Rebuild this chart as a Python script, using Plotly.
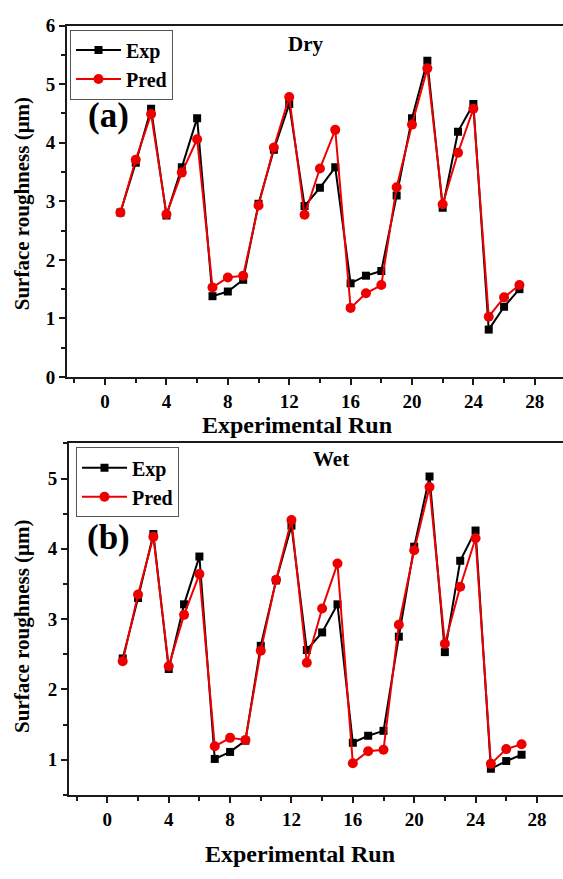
import plotly.graph_objects as go

runs = list(range(1, 28))

dry_exp = [2.81, 3.66, 4.58, 2.76, 3.58, 4.42, 1.38, 1.46, 1.66, 2.96, 3.88, 4.66, 2.92, 3.23,
           3.58, 1.60, 1.73, 1.81, 3.10, 4.42, 5.40, 2.89, 4.19, 4.66, 0.81, 1.20, 1.50]
dry_pred = [2.81, 3.71, 4.49, 2.78, 3.49, 4.06, 1.53, 1.70, 1.73, 2.93, 3.92, 4.78, 2.77, 3.56,
            4.22, 1.18, 1.43, 1.57, 3.24, 4.31, 5.27, 2.95, 3.83, 4.58, 1.03, 1.36, 1.57]

wet_exp = [2.44, 3.30, 4.21, 2.29, 3.21, 3.89, 1.01, 1.11, 1.27, 2.62, 3.55, 4.33, 2.56, 2.81,
           3.21, 1.24, 1.34, 1.41, 2.75, 4.03, 5.03, 2.53, 3.83, 4.26, 0.87, 0.98, 1.07]
wet_pred = [2.40, 3.35, 4.17, 2.33, 3.06, 3.64, 1.19, 1.31, 1.28, 2.55, 3.56, 4.41, 2.38, 3.15,
            3.79, 0.95, 1.12, 1.14, 2.92, 3.98, 4.88, 2.65, 3.46, 4.15, 0.94, 1.15, 1.22]

x_ticks = [0, 4, 8, 12, 16, 20, 24, 28]

W, H = 563, 879
FONT = "Liberation Serif"
AX = "#1a1a1a"

def py(p):
    return 1 - p / H

def px(p):
    return p / W

fig = go.Figure()

def add(xa, ya, exp, pred, legend):
    fig.add_trace(go.Scatter(x=runs, y=exp, name="Exp", mode="lines+markers",
                             line=dict(color="black", width=2),
                             marker=dict(symbol="square", size=8, color="black"),
                             xaxis=xa, yaxis=ya, legend=legend))
    fig.add_trace(go.Scatter(x=runs, y=pred, name="Pred", mode="lines+markers",
                             line=dict(color="#ee0000", width=2),
                             marker=dict(symbol="circle", size=10, color="#ee0000"),
                             xaxis=xa, yaxis=ya, legend=legend))

add("x", "y", dry_exp, dry_pred, "legend")
add("x2", "y2", wet_exp, wet_pred, "legend2")

tickfont = dict(family=FONT, size=19, color="black", weight="bold")

def xaxis(domain, rng, anchor):
    return dict(domain=domain, range=rng, anchor=anchor, tickvals=x_ticks,
                ticks="outside", ticklen=6, tickwidth=2, tickcolor=AX,
                showline=True, linecolor=AX, linewidth=2, mirror=True,
                showgrid=False, zeroline=False, tickfont=tickfont,
                minor=dict(dtick=2, tick0=0, ticks="outside", ticklen=4, tickwidth=2, tickcolor=AX))

def yaxis(domain, rng, anchor, tv):
    return dict(domain=domain, range=rng, anchor=anchor, tickvals=tv,
                ticks="outside", ticklen=6, tickwidth=2, tickcolor=AX,
                showline=True, linecolor=AX, linewidth=2, mirror=False,
                showgrid=False, zeroline=False, tickfont=tickfont,
                minor=dict(dtick=0.5, tick0=0, ticks="outside", ticklen=4, tickwidth=2, tickcolor=AX))

legfont = dict(family=FONT, size=20, color="black", weight="bold")

fig.update_layout(
    width=W, height=H,
    margin=dict(l=0, r=0, t=0, b=0),
    paper_bgcolor="white", plot_bgcolor="white",
    xaxis=xaxis([px(67), 1], [-2.48, 29.84], "y"),
    yaxis=yaxis([py(376), py(16)], [0, 6], "x", [0, 1, 2, 3, 4, 5, 6]),
    xaxis2=xaxis([px(69), 1], [-2.5, 29.7], "y2"),
    yaxis2=yaxis([py(804), py(444)], [0.5, 5.5], "x2", [1, 2, 3, 4, 5]),
    legend=dict(x=px(70), y=py(20), xanchor="left", yanchor="top",
                bordercolor="#555", borderwidth=1, bgcolor="white",
                font=legfont, tracegroupgap=0, itemwidth=45),
    legend2=dict(x=px(76), y=py(448), xanchor="left", yanchor="top",
                 bordercolor="#555", borderwidth=1, bgcolor="white",
                 font=legfont, tracegroupgap=0, itemwidth=45),
    showlegend=True,
)

def ann(text, x, y, size, angle=0):
    fig.add_annotation(text=text, x=px(x), y=py(y), xref="paper", yref="paper",
                       showarrow=False, textangle=angle, xanchor="center", yanchor="middle",
                       font=dict(family=FONT, size=size, color="black", weight="bold"))

ann("(a)", 108, 108, 35)
ann("(b)", 108, 540, 35)
ann("Dry", 305, 35, 21)
ann("Wet", 331, 460, 21)
ann("Experimental Run", 297, 425, 24)
ann("Experimental Run", 300, 865, 24)
ann("Surface roughness (\u03bcm)", 22, 199, 21, -90)
ann("Surface roughness (\u03bcm)", 22, 632, 21, -90)

fig.write_html("out.html")
